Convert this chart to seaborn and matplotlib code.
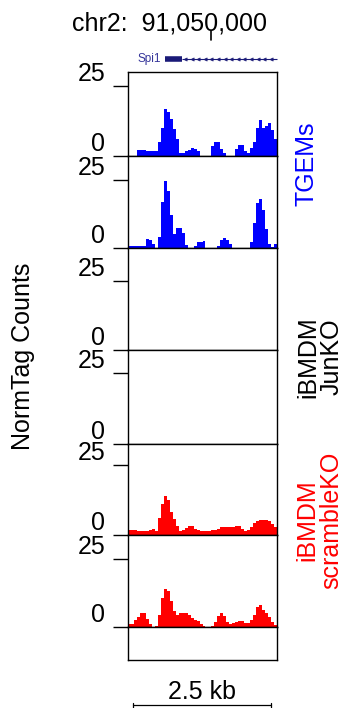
import numpy as np
import pandas as pd
import matplotlib
matplotlib.use("Agg")
import matplotlib.pyplot as plt
import seaborn as sns

# ---------------- data ----------------
chrom = "chr2"
region_start = 91048500
bin_size = 54
region_end = region_start + 50 * bin_size
bin_starts = list(range(region_start, region_end, bin_size))
bin_edges = bin_starts + [region_end]

tgems_rep1 = [0, 0, 0, 2, 2, 2, 1.5, 1.5, 1.5, 1.5,
              5, 10, 16.5, 15.5, 13, 9.5, 6, 1, 0.8, 1.6,
              2, 2.8, 2.3, 1.5, 0, 0, 0, 0, 3.3, 4.8,
              5, 2.5, 0.8, 0, 0, 0, 2.5, 3.9, 3.9, 1.5,
              1, 2.6, 5, 10, 12.9, 10, 10.5, 11.7, 9, 6]
tgems_rep2 = [0.8, 0.7, 0.6, 0.6, 0.6, 0.6, 3.4, 3, 1.5, 0,
              4, 17, 24.5, 21, 12, 5, 7.2, 7.2, 5.5, 1,
              0, 0, 0.5, 2, 2.2, 2.4, 0, 0, 0, 0,
              0.8, 2.8, 3.4, 3, 1.5, 0, 0, 0, 0, 0,
              0, 2, 9, 16.5, 18, 14, 7, 1.5, 0.3, 1.2]
junko_rep1 = [0] * 50
junko_rep2 = [0] * 50
scramble_rep1 = [1.7, 1.7, 1.7, 1.5, 1.2, 1.2, 1.2, 1.8, 2, 1.5,
                 6, 11, 13.8, 12.5, 8, 5.5, 3, 1.5, 1.6, 2.5,
                 3, 3, 2.2, 1.8, 1.3, 1.2, 1.4, 1.4, 1.6, 1.8,
                 2, 2.6, 2.6, 2.8, 2.8, 2.8, 3.1, 3.2, 2.2, 1.3,
                 1.8, 2.8, 4.2, 4.8, 5.2, 5.2, 5.2, 4.8, 4, 2.8]
scramble_rep2 = [1, 1.2, 2.5, 3.8, 5, 5, 3, 1, 0, 0.5,
                 4.5, 10.5, 13.8, 13.4, 9.5, 6, 4.5, 5, 5.3, 5.2,
                 4.3, 3.2, 2.5, 2.2, 1.2, 0.5, 0, 0, 0.5, 2,
                 4, 5, 4, 2, 1.1, 1.3, 1.8, 2.2, 2.2, 1.3,
                 1.5, 2.5, 4.5, 7.5, 8, 6.2, 5, 3.6, 2, 0.8]

tracks = [tgems_rep1, tgems_rep2, junko_rep1, junko_rep2, scramble_rep1, scramble_rep2]
track_colors = ["#0000FF", "#0000FF", "#000000", "#000000", "#FF0000", "#FF0000"]
y_ticks = [0, 25]
y_tick_labels = ["0", "25"]

group_labels = ["TGEMs", "iBMDM\nJunKO", "iBMDM\nscrambleKO"]
group_colors = ["#0000FF", "#000000", "#FF0000"]

gene_name = "Spi1"
gene_thick = (91049171, 91049471)
gene_tx_end = region_end
tick_pos = 91050000
scale_bp = 2500
scale_start = 91048590

# ---------------- layout (pixels) ----------------
W, H = 346, 708
def rect(left, top, right, bottom):
    return [left / W, 1 - bottom / H, (right - left) / W, (bottom - top) / H]

panel_px = [(71.7, 155.7), (155.7, 247.7), (247.7, 350.3),
            (350.3, 443.7), (443.7, 534.7), (534.7, 627.0)]
panel_ymax = [30, 34, 37, 33.2, 32.6, 33.9]
x_left, x_right = 128, 277

sns.set_theme(style="white")
plt.rcParams["font.family"] = ["Liberation Sans", "DejaVu Sans"]

fig = plt.figure(figsize=(W / 100, H / 100), dpi=100)

for vals, col, (top, bot), ymax in zip(tracks, track_colors, panel_px, panel_ymax):
    ax = fig.add_axes(rect(x_left, top, x_right, bot))
    sns.histplot(x=bin_starts, weights=vals, bins=bin_edges, element="step",
                 fill=True, color=col, alpha=1, linewidth=0, ax=ax)
    ax.set_xlim(region_start, region_end)
    ax.set_ylim(0, ymax)
    ax.set_xlabel("")
    ax.set_ylabel("")
    ax.set_xticks([])
    ax.set_yticks(y_ticks)
    ax.set_yticklabels(y_tick_labels, va="bottom")
    ax.tick_params(axis="y", left=True, length=11, width=1, pad=5.5,
                   labelsize=18, colors="black")
    for s in ax.spines.values():
        s.set_color("black")
        s.set_linewidth(1.0)

# empty bottom extension of frame
ax_e = fig.add_axes(rect(x_left, 627.0, x_right, 660.3))
ax_e.set_xticks([])
ax_e.set_yticks([])
for s in ax_e.spines.values():
    s.set_color("black")
    s.set_linewidth(1.0)

# gene / coordinate track
ax_g = fig.add_axes(rect(x_left, 28, x_right, 70))
ax_g.set_xlim(region_start, region_end)
ax_g.set_ylim(70, 28)
ax_g.axis("off")
gene_col = "#1a1a78"
ax_g.plot([gene_thick[1], gene_tx_end], [58.8, 58.8], color=gene_col, lw=0.8,
          solid_capstyle="butt", clip_on=False)
ax_g.plot([gene_thick[0], gene_thick[1]], [58.8, 58.8], color=gene_col, lw=4.0,
          solid_capstyle="butt")
arrow_x = np.arange(gene_thick[1] + 60, gene_tx_end - 20, 120)
ax_g.plot(arrow_x, np.full(len(arrow_x), 58.8), linestyle="none", marker="<",
          markersize=2.4, color=gene_col, markeredgewidth=0.4)
ax_g.text(gene_thick[0] - 80, 58.8, gene_name, ha="right", va="center",
          fontsize=8.5, color="#35359a")
ax_g.plot([tick_pos, tick_pos], [30.8, 40], color="black", lw=1.2, clip_on=False)

fig.text(71.7 / W, 1 - 30 / H, f"{chrom}:  {tick_pos:,}", ha="left",
         va="baseline", fontsize=18, color="black")

# scale bar
ax_s = fig.add_axes(rect(x_left, 664, x_right, 708))
ax_s.set_xlim(region_start, region_end)
ax_s.set_ylim(708, 664)
ax_s.axis("off")
ax_s.plot([scale_start, scale_start + scale_bp], [705, 705], color="black", lw=0.9,
          clip_on=False)
for xe in (scale_start, scale_start + scale_bp):
    ax_s.plot([xe, xe], [702.5, 707.5], color="black", lw=0.9, clip_on=False)
ax_s.text(scale_start + scale_bp / 2, 699, f"{scale_bp / 1000:g} kb", ha="center",
          va="baseline", fontsize=18, color="black")

# labels
fig.text(23 / W, 1 - 356 / H, "NormTag Counts", rotation=90, ha="center",
         va="center", fontsize=18, color="black")
group_pos = [(306, 164), (320, 357), (319, 520)]
for lab, col, (gx, gy) in zip(group_labels, group_colors, group_pos):
    fig.text(gx / W, 1 - gy / H, lab, rotation=90, ha="center", va="center",
             fontsize=18, color=col, linespacing=1.0, multialignment="center")

fig.savefig("out.png", dpi=100)
